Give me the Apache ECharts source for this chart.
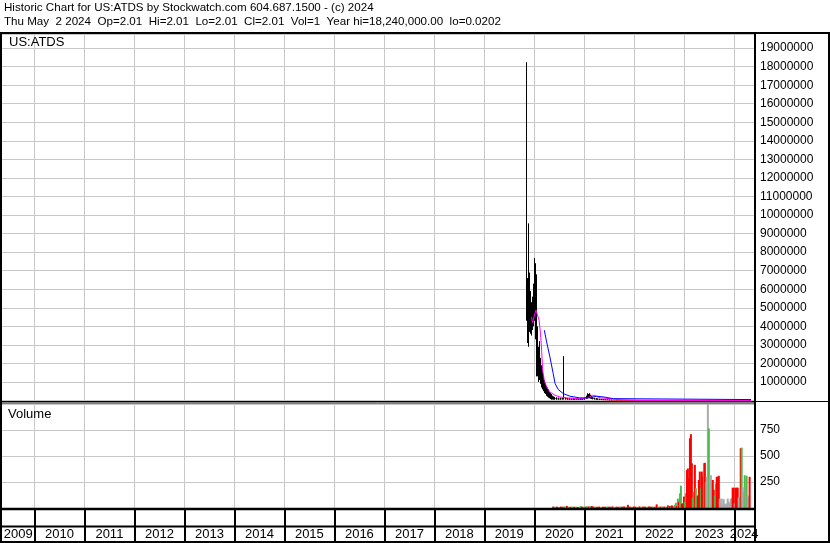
<!DOCTYPE html>
<html>
<head>
<meta charset="utf-8">
<script src="https://cdn.jsdelivr.net/npm/echarts@6/dist/echarts.min.js"></script>
<style>
html,body{margin:0;padding:0;background:#fff;}
#chart{width:830px;height:543px;}
</style>
</head>
<body>
<div id="chart"></div>
<script>
// year cells on the time axis
var years = [2009,2010,2011,2012,2013,2014,2015,2016,2017,2018,2019,2020,2021,2022,2023,2024];
var tMin = '2009-05-09', tMax = '2024-05-24';

// weekly hi / lo / close bars
var barDates = ['2019-11-04','2019-11-11','2019-11-18','2019-11-25','2019-12-02','2019-12-09','2019-12-16','2019-12-23','2019-12-30',
  '2020-01-06','2020-01-13','2020-01-20','2020-01-27','2020-02-03','2020-02-10','2020-02-17','2020-02-24','2020-03-02','2020-03-09',
  '2020-03-16','2020-03-23','2020-03-30','2020-04-06','2020-04-13','2020-04-20','2020-04-27','2020-05-04','2020-05-11','2020-05-18',
  '2020-05-25','2020-06-01','2020-06-15','2020-06-29','2020-07-13','2020-07-27','2020-08-06','2020-08-17','2020-08-31','2020-09-14',
  '2020-09-28','2020-10-12','2020-10-26','2020-11-09','2020-11-23','2020-12-07','2020-12-21','2021-01-04','2021-01-18','2021-01-25',
  '2021-02-01','2021-02-08','2021-02-15','2021-02-22','2021-03-01','2021-03-15','2021-03-29','2021-04-12','2021-04-26','2021-05-10',
  '2021-05-24','2021-06-07','2021-06-21','2021-07-05','2021-07-19'];
var barHigh = [18240000,6600000,5500000,9550000,6900000,5900000,5300000,5600000,6300000,
  7680000,7400000,6800000,4000000,2900000,3200000,2300000,1900000,1700000,1400000,
  1100000,950000,800000,700000,600000,450000,400000,350000,300000,260000,
  220000,200000,180000,160000,150000,140000,2390000,160000,140000,130000,
  120000,120000,110000,110000,100000,100000,110000,150000,260000,390000,
  350000,390000,300000,250000,200000,150000,130000,120000,100000,90000,
  80000,70000,60000,50000,40000];
var barLow = [4300000,3100000,2900000,3800000,3700000,3600000,3500000,3800000,4000000,
  4300000,3300000,1300000,1300000,1000000,1100000,900000,700000,600000,500000,
  400000,350000,250000,200000,150000,120000,80000,60000,50000,50000,
  40000,40000,40000,40000,40000,40000,50000,40000,40000,30000,
  30000,30000,30000,30000,30000,30000,30000,40000,80000,100000,
  150000,120000,100000,80000,60000,50000,40000,40000,30000,30000,
  20000,20000,20000,10000,10000];
var barClose = [6200000,4500000,3500000,4800000,5600000,4400000,4000000,4600000,5200000,
  6800000,4300000,2600000,2000000,1700000,1600000,1400000,1100000,900000,800000,
  700000,600000,450000,350000,300000,250000,180000,150000,120000,120000,
  100000,110000,90000,80000,80000,70000,150000,90000,80000,70000,
  70000,60000,60000,60000,60000,50000,60000,100000,200000,300000,
  280000,370000,200000,150000,120000,90000,80000,70000,60000,50000,
  40000,40000,30000,30000,20000];

// closes after the active period
var tailDates = ['2021-08-16','2021-09-15','2021-10-15','2021-11-15','2021-12-15','2022-01-15','2022-03-15','2022-05-15',
  '2022-07-15','2022-09-15','2022-11-15','2023-01-15','2023-03-15','2023-05-15','2023-07-15','2023-09-15','2023-11-15',
  '2024-01-15','2024-03-15','2024-05-02'];
var tailClose = [15000,12000,10000,9000,8000,6000,5000,4000,3000,2500,2000,1500,1200,1000,800,500,300,100,20,2.01];

// short average (magenta)
var maShortDates = ['2019-12-12','2019-12-19','2019-12-26','2020-01-06','2020-01-13','2020-01-24','2020-02-05','2020-02-15',
  '2020-02-22','2020-03-02','2020-03-14','2020-03-31','2020-04-24','2020-06-01','2020-07-07','2020-08-25','2020-11-29',
  '2021-01-27','2021-03-01','2021-03-20','2021-04-25','2021-07-07','2021-09-18','2022-02-01','2024-05-02'];
var maShortVals = [4500000,4200000,4400000,4700000,4870000,4870000,4330000,3630000,
  2890000,1630000,1090000,730000,460000,280000,190000,140000,100000,
  140000,280000,260000,140000,100000,40000,10000,3000];

// long average (blue)
var maLongDates = ['2020-03-14','2020-03-31','2020-04-24','2020-05-18','2020-06-01','2020-06-24','2020-07-31','2020-09-18',
  '2020-11-29','2021-01-27','2021-04-01','2021-06-01','2021-07-31','2021-08-12','2024-05-02'];
var maLongVals = [3790000,3160000,2350000,1450000,910000,590000,370000,230000,
  140000,140000,230000,180000,100000,50000,50000];

// volume: u = up, d = down, n = unchanged
var volDates = ['2020-05-18','2020-06-01','2020-06-15','2020-06-29','2020-07-13','2020-07-27','2020-08-10','2020-08-26','2020-09-07',
  '2020-09-21','2020-10-05','2020-10-19','2020-11-02','2020-11-16','2020-12-04','2020-12-14','2020-12-28','2021-01-11','2021-01-18',
  '2021-02-01','2021-02-15','2021-02-24','2021-03-08','2021-03-22','2021-04-05','2021-04-19','2021-05-03','2021-05-17','2021-05-31',
  '2021-06-14','2021-06-28','2021-07-12','2021-07-26','2021-08-09','2021-08-23','2021-09-06','2021-09-20','2021-10-04','2021-10-18',
  '2021-11-01','2021-11-15','2021-11-29','2021-12-13','2021-12-27','2022-01-10','2022-01-24','2022-02-07','2022-02-21','2022-03-07',
  '2022-03-21','2022-04-04','2022-04-18','2022-05-02','2022-05-16','2022-05-30','2022-06-13','2022-06-27','2022-07-11','2022-07-25',
  '2022-08-08','2022-08-22',
  '2022-09-03','2022-09-10','2022-09-17','2022-09-25','2022-10-02','2022-10-09','2022-10-17','2022-10-24','2022-10-31','2022-11-08',
  '2022-11-15','2022-11-22','2022-11-30','2022-12-07','2022-12-14','2022-12-21','2022-12-29','2023-01-05','2023-01-12','2023-01-20',
  '2023-01-27','2023-02-03','2023-02-11','2023-02-18','2023-02-25','2023-03-04','2023-03-12','2023-03-19','2023-03-26','2023-04-03',
  '2023-04-10','2023-04-17','2023-04-24','2023-05-02','2023-05-09','2023-05-16','2023-05-24','2023-05-31','2023-06-07','2023-06-14',
  '2023-06-22','2023-06-29','2023-07-06','2023-07-14','2023-07-21','2023-07-28','2023-08-04','2023-08-12','2023-08-19','2023-08-26',
  '2023-09-02','2023-09-10','2023-09-17','2023-09-24','2023-10-01','2023-10-09','2023-10-16','2023-10-23','2023-10-31','2023-11-07',
  '2023-11-14','2023-11-21','2023-11-29','2023-12-06','2023-12-13','2023-12-20','2023-12-28','2024-01-04','2024-01-11','2024-01-19',
  '2024-01-26','2024-02-02','2024-02-09','2024-02-17','2024-02-24','2024-03-02','2024-03-10','2024-03-17','2024-03-24','2024-03-31',
  '2024-04-08','2024-04-15','2024-04-22','2024-04-29'];
var volVals = [14,12,13,10,14,12,16,20,13,
  12,14,12,13,10,18,13,14,12,17,
  15,16,19,14,13,12,14,10,13,12,
  14,13,12,15,10,13,12,14,13,15,
  12,30,13,12,14,13,10,15,12,14,
  13,12,15,13,14,12,35,14,13,15,
  14,12,
  25,12,20,14,25,15,14,30,50,20,
  90,60,140,215,40,45,110,60,140,365,
  380,285,670,710,430,100,155,415,190,110,
  120,270,350,190,350,300,430,435,250,300,
  1100,765,300,315,240,270,175,120,235,300,
  300,310,90,50,90,30,85,40,30,45,
  90,60,45,85,95,195,195,45,195,195,
  195,100,110,575,580,200,150,315,205,310,
  120,100,300,1];
var volDir = ['d','u','d','u','d','d','u','d','u',
  'd','u','d','u','d','u','d','u','d','u',
  'd','u','d','d','u','d','d','u','d','d',
  'u','d','d','d','u','d','d','u','d','d',
  'u','d','d','u','d','d','u','d','u','d',
  'd','u','d','d','u','d','d','u','d','u',
  'd','u',
  'd','u','d','u','d','d','u','u','u','d',
  'u','d','u','u','d','d','d','u','u','d',
  'd','d','d','d','d','u','u','d','u','u',
  'd','d','d','u','d','d','u','d','u','n',
  'n','u','n','n','n','d','d','u','u','d',
  'd','d','n','n','n','n','n','n','n','n',
  'n','n','n','n','n','d','d','n','d','d',
  'd','n','n','d','u','n','n','u','n','u',
  'n','n','d','u'];

var dirColor = {u:'#4db84d', d:'#ff0000', n:'#aaaaaa'};
var FONT = "'Liberation Sans', Arial, sans-serif";

function ts(s){ var p = s.split('-'); return +new Date(+p[0], +p[1]-1, +p[2]); }
var lo = ts(tMin), hi = ts(tMax);
var yearStarts = years.slice(1).map(function(y){ return +new Date(y,0,1); });
var yearMids = years.map(function(y){
  var a = Math.max(+new Date(y,0,1), lo), b = Math.min(+new Date(y+1,0,1), hi);
  return (a+b)/2;
});

function pairs(d, v){ return d.map(function(x,i){ return [ts(x), v[i]]; }); }

var chart = echarts.init(document.getElementById('chart'));

function dateAxis(gi, lineColor, lw){
  return {
    type:'value', gridIndex:gi, min:lo, max:hi,
    axisLine:{show:false},
    axisTick:{show:false, customValues:yearStarts},
    axisLabel:{show:false},
    splitLine:{show:true, lineStyle:{color:lineColor, width:lw}}
  };
}
var yearAxis = dateAxis(2, '#000', 2);
yearAxis.axisLabel = {
  show:true, inside:true, margin:0, customValues:yearMids,
  fontSize:13, fontFamily:FONT, color:'#000',
  formatter:function(v){ return String(new Date(v).getFullYear()); }
};

function hLine(x1,y,x2,w){ return {type:'line', silent:true, shape:{x1:x1,y1:y,x2:x2,y2:y}, style:{stroke:'#000', lineWidth:w}, z:100}; }
function vLine(x,y1,y2,w){ return {type:'line', silent:true, shape:{x1:x,y1:y1,x2:x,y2:y2}, style:{stroke:'#000', lineWidth:w}, z:100}; }
function label(t,x,y,fs){ return {type:'text', silent:true, z:100, style:{text:t, x:x, y:y, fill:'#000', font:fs+'px '+FONT, verticalAlign:'middle'}}; }

var option = {
  animation:false,
  backgroundColor:'#fff',
  grid:[
    {left:2, top:34, width:752, height:366.5},
    {left:2, top:404, width:752, height:104},
    {left:2, top:510, width:752, height:31}
  ],
  xAxis:[ dateAxis(0,'#c8c8c8',1), dateAxis(1,'#c8c8c8',1), yearAxis ],
  yAxis:[
    {type:'value', gridIndex:0, position:'right', min:0, max:19760000, interval:1000000,
     axisLine:{show:false}, axisTick:{show:false}, splitLine:{lineStyle:{color:'#c8c8c8', width:1}},
     axisLabel:{margin:6, showMaxLabel:false, fontSize:12, fontFamily:FONT, color:'#000',
       formatter:function(v){ return v === 0 ? '' : String(v); }}},
    {type:'value', gridIndex:1, position:'right', min:0, max:1000, interval:250,
     axisLine:{show:false}, axisTick:{show:false}, splitLine:{lineStyle:{color:'#c8c8c8', width:1}},
     axisLabel:{margin:6, showMaxLabel:false, fontSize:12, fontFamily:FONT, color:'#000',
       formatter:function(v){ return v === 0 ? '' : String(v); }}},
    {type:'value', gridIndex:2, show:false}
  ],
  series:[
    {type:'line', xAxisIndex:0, yAxisIndex:0, symbol:'none', z:2,
     lineStyle:{color:'#ff0000', width:1},
     data:pairs(barDates.concat(tailDates), barClose.concat(tailClose))},
    {type:'candlestick', xAxisIndex:0, yAxisIndex:0, z:3, barMaxWidth:1,
     itemStyle:{color:'#000', color0:'#000', borderColor:'#000', borderColor0:'#000', borderWidth:1},
     data:barDates.map(function(d,i){ return [ts(d), barClose[i], barClose[i], barLow[i], barHigh[i]]; })},
    {type:'line', xAxisIndex:0, yAxisIndex:0, symbol:'none', z:4,
     lineStyle:{color:'#ff00ff', width:1}, data:pairs(maShortDates, maShortVals)},
    {type:'line', xAxisIndex:0, yAxisIndex:0, symbol:'none', z:5,
     lineStyle:{color:'#0000ff', width:1}, data:pairs(maLongDates, maLongVals)},
    {type:'bar', xAxisIndex:1, yAxisIndex:1, barWidth:2, clip:true,
     data:volDates.map(function(d,i){ return {value:[ts(d), volVals[i]], itemStyle:{color:dirColor[volDir[i]]}}; })}
  ],
  graphic:[
    label('Historic Chart for US:ATDS by Stockwatch.com 604.687.1500 - (c) 2024', 4, 8, 11.6),
    label('Thu May  2 2024  Op=2.01  Hi=2.01  Lo=2.01  Cl=2.01  Vol=1  Year hi=18,240,000.00  lo=0.0202', 4, 22, 11.6),
    label('US:ATDS', 9, 42, 13),
    label('Volume', 8, 414, 13),
    hLine(0, 33, 830, 2),
    vLine(1, 32, 543, 2),
    vLine(829, 32, 543, 2),
    vLine(755, 32, 543, 2),
    hLine(0, 401.5, 830, 1),
    hLine(0, 403, 755, 1),
    hLine(0, 509, 755, 2.5),
    hLine(0, 526.5, 755, 2),
    hLine(0, 542, 830, 2)
  ]
};
chart.setOption(option);
</script>
</body>
</html>
